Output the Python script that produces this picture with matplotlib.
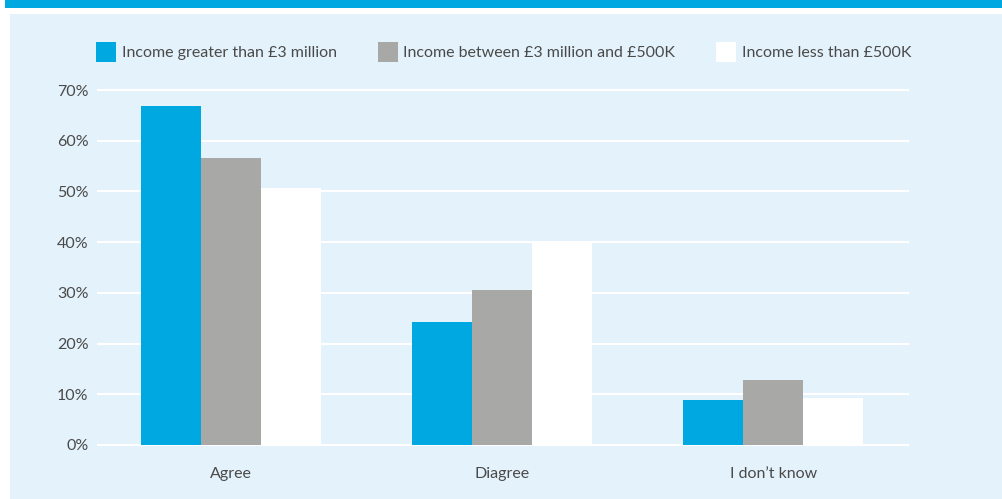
import matplotlib.pyplot as plt
from matplotlib.patches import Rectangle, Patch
import numpy as np

# data
categories = ['Agree', 'Diagree', 'I don\u2019t know']
series_names = ['Income greater than \u00a33 million',
                'Income between \u00a33 million and \u00a3500K',
                'Income less than \u00a3500K']
over_3m = [66.9, 24.3, 8.9]
mid_band = [56.6, 30.6, 12.8]
under_500k = [50.7, 40.0, 9.3]
yticks = [0, 10, 20, 30, 40, 50, 60, 70]

BLUE = '#00a8e2'
GREY = '#a8a8a7'
WHITE = '#ffffff'
PANEL = '#e4f2fb'
TEXT = '#4a4a4a'

plt.rcParams['font.family'] = ['Lato', 'DejaVu Sans']

W, H = 1003, 499
fig = plt.figure(figsize=(W / 100, H / 100), dpi=100)
fig.patch.set_facecolor('white')

# top band and light panel (figure pixel coords)
fig.patches.append(Rectangle((5 / W, 1 - 8 / H), 1, 8 / H, transform=fig.transFigure,
                             facecolor=BLUE, edgecolor='none', zorder=-2))
fig.patches.append(Rectangle((10 / W, 0), 1, 1 - 14 / H, transform=fig.transFigure,
                             facecolor=PANEL, edgecolor='none', zorder=-2))

y0, y1 = -0.5, 70.5
px_per = (445 - 90) / 70
top_px = 90 - (y1 - 70) * px_per
bot_px = 445 + (0 - y0) * px_per
ax = fig.add_axes([97 / W, 1 - bot_px / H, (909 - 97) / W, (bot_px - top_px) / H])
ax.set_facecolor('none')
ax.set_zorder(2)

x = np.arange(len(categories))
bw = 60 / 271
colors = [BLUE, GREY, WHITE]
for i, (vals, c) in enumerate(zip([over_3m, mid_band, under_500k], colors)):
    ax.bar(x + (i - 1) * bw, vals, width=bw, color=c, edgecolor='none', zorder=3)

ax.set_xlim(-0.495, 2.5)
ax.set_ylim(y0, y1)
ax.set_yticks(yticks)
ax.set_yticklabels([f'{t}%' for t in yticks])
ax.set_xticks(x)
ax.set_xticklabels(categories)
ax.grid(axis='y', color='white', linewidth=1.5, zorder=1)
ax.set_axisbelow(True)
for s in ax.spines.values():
    s.set_visible(False)
ax.tick_params(length=0, labelsize=11.5, colors=TEXT, pad=6)
ax.tick_params(axis='x', pad=14)

handles = [Patch(facecolor=c, edgecolor='none') for c in colors]
leg = fig.legend(handles, series_names, loc='center left', bbox_to_anchor=(90 / W, 1 - 52 / H),
                 ncol=3, frameon=False, fontsize=11.5, labelcolor=TEXT,
                 handlelength=1.25, handleheight=1.55, handletextpad=0.35,
                 columnspacing=2.55, borderaxespad=0)
leg.set_zorder(3)

fig.savefig('out.png', dpi=100, facecolor='white')
